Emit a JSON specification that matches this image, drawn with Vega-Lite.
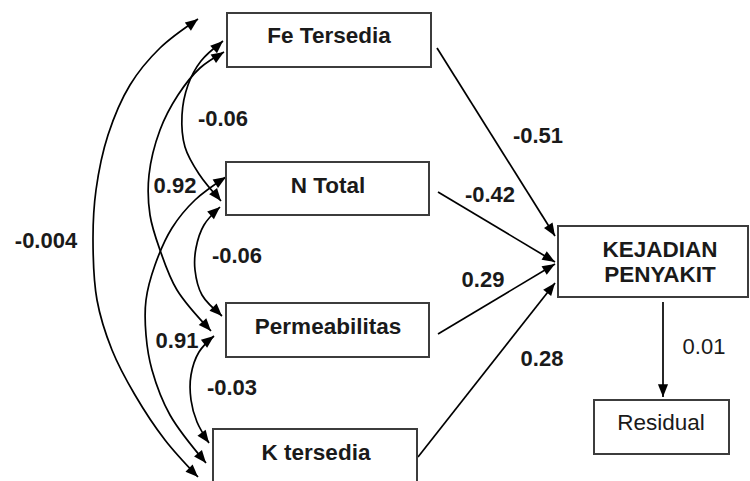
{
  "$schema": "https://vega.github.io/schema/vega-lite/v6.json",
  "width": 750,
  "height": 481,
  "padding": 0,
  "autosize": {"type": "fit", "contains": "padding"},
  "background": "white",
  "config": {"view": {"stroke": null}},
  "datasets": {
    "nodes": [
      {"name": "Fe Tersedia", "kind": "exogenous", "x1": 227, "x2": 431, "y1": 13, "y2": 67, "lx": 329, "ly": 43},
      {"name": "N Total", "kind": "exogenous", "x1": 226, "x2": 429, "y1": 162, "y2": 215, "lx": 328, "ly": 193},
      {"name": "Permeabilitas", "kind": "exogenous", "x1": 226, "x2": 429, "y1": 303, "y2": 357, "lx": 328, "ly": 334},
      {"name": "K tersedia", "kind": "exogenous", "x1": 213, "x2": 417, "y1": 429, "y2": 485, "lx": 316, "ly": 460},
      {"name": "KEJADIAN\nPENYAKIT", "kind": "endogenous", "x1": 558, "x2": 748, "y1": 226, "y2": 297, "lx": 660, "ly": 257},
      {"name": "Residual", "kind": "error", "x1": 594, "x2": 729, "y1": 400, "y2": 454, "lx": 661, "ly": 430}
    ],
    "paths": [
      {"path": "c_004", "seq": 0, "x": 198, "y": 19},
      {"path": "c_004", "seq": 1, "x": 160, "y": 48},
      {"path": "c_004", "seq": 2, "x": 130, "y": 85},
      {"path": "c_004", "seq": 3, "x": 108, "y": 135},
      {"path": "c_004", "seq": 4, "x": 96, "y": 190},
      {"path": "c_004", "seq": 5, "x": 93, "y": 240},
      {"path": "c_004", "seq": 6, "x": 97, "y": 300},
      {"path": "c_004", "seq": 7, "x": 112, "y": 350},
      {"path": "c_004", "seq": 8, "x": 135, "y": 395},
      {"path": "c_004", "seq": 9, "x": 165, "y": 440},
      {"path": "c_004", "seq": 10, "x": 198, "y": 477},
      {"path": "c_fe_n", "seq": 0, "x": 223, "y": 41},
      {"path": "c_fe_n", "seq": 1, "x": 201, "y": 61},
      {"path": "c_fe_n", "seq": 2, "x": 188, "y": 85},
      {"path": "c_fe_n", "seq": 3, "x": 182, "y": 115},
      {"path": "c_fe_n", "seq": 4, "x": 185, "y": 147},
      {"path": "c_fe_n", "seq": 5, "x": 199, "y": 174},
      {"path": "c_fe_n", "seq": 6, "x": 221, "y": 201},
      {"path": "c_fe_p", "seq": 0, "x": 224, "y": 52},
      {"path": "c_fe_p", "seq": 1, "x": 200, "y": 68},
      {"path": "c_fe_p", "seq": 2, "x": 178, "y": 95},
      {"path": "c_fe_p", "seq": 3, "x": 160, "y": 130},
      {"path": "c_fe_p", "seq": 4, "x": 149, "y": 175},
      {"path": "c_fe_p", "seq": 5, "x": 150, "y": 215},
      {"path": "c_fe_p", "seq": 6, "x": 160, "y": 250},
      {"path": "c_fe_p", "seq": 7, "x": 177, "y": 290},
      {"path": "c_fe_p", "seq": 8, "x": 211, "y": 331},
      {"path": "c_n_k", "seq": 0, "x": 226, "y": 177},
      {"path": "c_n_k", "seq": 1, "x": 195, "y": 200},
      {"path": "c_n_k", "seq": 2, "x": 172, "y": 228},
      {"path": "c_n_k", "seq": 3, "x": 155, "y": 265},
      {"path": "c_n_k", "seq": 4, "x": 146, "y": 300},
      {"path": "c_n_k", "seq": 5, "x": 146, "y": 335},
      {"path": "c_n_k", "seq": 6, "x": 152, "y": 370},
      {"path": "c_n_k", "seq": 7, "x": 170, "y": 415},
      {"path": "c_n_k", "seq": 8, "x": 206, "y": 463},
      {"path": "c_n_p", "seq": 0, "x": 220, "y": 207},
      {"path": "c_n_p", "seq": 1, "x": 204, "y": 225},
      {"path": "c_n_p", "seq": 2, "x": 196, "y": 248},
      {"path": "c_n_p", "seq": 3, "x": 195, "y": 270},
      {"path": "c_n_p", "seq": 4, "x": 202, "y": 295},
      {"path": "c_n_p", "seq": 5, "x": 222, "y": 316},
      {"path": "c_p_k", "seq": 0, "x": 214, "y": 336},
      {"path": "c_p_k", "seq": 1, "x": 199, "y": 352},
      {"path": "c_p_k", "seq": 2, "x": 191, "y": 375},
      {"path": "c_p_k", "seq": 3, "x": 191, "y": 400},
      {"path": "c_p_k", "seq": 4, "x": 197, "y": 422},
      {"path": "c_p_k", "seq": 5, "x": 209, "y": 443},
      {"path": "a_fe", "seq": 0, "x": 437, "y": 48},
      {"path": "a_fe", "seq": 1, "x": 555, "y": 236},
      {"path": "a_n", "seq": 0, "x": 438, "y": 192},
      {"path": "a_n", "seq": 1, "x": 555, "y": 262},
      {"path": "a_p", "seq": 0, "x": 438, "y": 334},
      {"path": "a_p", "seq": 1, "x": 555, "y": 264},
      {"path": "a_k", "seq": 0, "x": 418, "y": 457},
      {"path": "a_k", "seq": 1, "x": 555, "y": 283},
      {"path": "a_res", "seq": 0, "x": 663, "y": 302},
      {"path": "a_res", "seq": 1, "x": 663, "y": 397}
    ],
    "heads": [
      {"path": "c_004", "x": 198, "y": 19, "px": 186, "py": 28},
      {"path": "c_004", "x": 198, "y": 477, "px": 187, "py": 466},
      {"path": "c_fe_n", "x": 223, "y": 41, "px": 213, "py": 50},
      {"path": "c_fe_n", "x": 221, "y": 201, "px": 213, "py": 191},
      {"path": "c_fe_p", "x": 224, "y": 52, "px": 213, "py": 59},
      {"path": "c_fe_p", "x": 211, "y": 331, "px": 202, "py": 321},
      {"path": "c_n_k", "x": 226, "y": 177, "px": 215, "py": 184},
      {"path": "c_n_k", "x": 206, "y": 463, "px": 197, "py": 452},
      {"path": "c_n_p", "x": 220, "y": 207, "px": 211, "py": 215},
      {"path": "c_n_p", "x": 222, "y": 316, "px": 213, "py": 307},
      {"path": "c_p_k", "x": 214, "y": 336, "px": 205, "py": 343},
      {"path": "c_p_k", "x": 209, "y": 443, "px": 201, "py": 432},
      {"path": "a_fe", "x": 555, "y": 236, "px": 437, "py": 48},
      {"path": "a_n", "x": 555, "y": 262, "px": 438, "py": 192},
      {"path": "a_p", "x": 555, "y": 264, "px": 438, "py": 334},
      {"path": "a_k", "x": 555, "y": 283, "px": 418, "py": 457},
      {"path": "a_res", "x": 663, "y": 397, "px": 663, "py": 302}
    ],
    "coefs": [
      {"text": "-0.51", "kind": "path", "x": 538, "y": 143},
      {"text": "-0.42", "kind": "path", "x": 490, "y": 202},
      {"text": "0.29", "kind": "path", "x": 483, "y": 287},
      {"text": "0.28", "kind": "path", "x": 542, "y": 366},
      {"text": "-0.06", "kind": "path", "x": 223, "y": 126},
      {"text": "0.92", "kind": "path", "x": 175, "y": 193},
      {"text": "-0.004", "kind": "path", "x": 46, "y": 248},
      {"text": "-0.06", "kind": "path", "x": 237, "y": 263},
      {"text": "0.91", "kind": "path", "x": 177, "y": 348},
      {"text": "-0.03", "kind": "path", "x": 232, "y": 395},
      {"text": "0.01", "kind": "error", "x": 704, "y": 354}
    ]
  },
  "layer": [
    {
      "data": {"name": "paths"},
      "mark": {"type": "line", "interpolate": "catmull-rom", "color": "black", "strokeWidth": 1.7},
      "encoding": {
        "x": {"field": "x", "type": "quantitative", "scale": {"domain": [0, 750], "nice": false, "zero": false}, "axis": null},
        "y": {"field": "y", "type": "quantitative", "scale": {"domain": [0, 481], "nice": false, "zero": false, "reverse": true}, "axis": null},
        "detail": {"field": "path"},
        "order": {"field": "seq", "type": "quantitative"}
      }
    },
    {
      "data": {"name": "heads"},
      "transform": [{"calculate": "atan2(datum.x - datum.px, datum.py - datum.y) * 180 / PI", "as": "angle"}],
      "mark": {"type": "point", "shape": "M0,0L-0.8,2L0.8,2Z", "filled": true, "color": "black", "opacity": 1, "size": 160, "strokeWidth": 0},
      "encoding": {
        "x": {"field": "x", "type": "quantitative", "axis": null},
        "y": {"field": "y", "type": "quantitative", "axis": null},
        "angle": {"field": "angle", "type": "quantitative", "scale": null}
      }
    },
    {
      "data": {"name": "nodes"},
      "mark": {"type": "rect", "fill": "white", "stroke": "#3c3c3c", "strokeWidth": 2, "clip": true},
      "encoding": {
        "x": {"field": "x1", "type": "quantitative", "axis": null},
        "x2": {"field": "x2"},
        "y": {"field": "y1", "type": "quantitative", "axis": null},
        "y2": {"field": "y2"}
      }
    },
    {
      "data": {"name": "nodes"},
      "transform": [{"filter": "datum.kind != 'error'"}],
      "mark": {"type": "text", "font": "Liberation Sans", "fontSize": 22.5, "fontWeight": "bold", "align": "center", "baseline": "alphabetic", "color": "#1a1a1a", "lineBreak": "\n", "lineHeight": 25},
      "encoding": {
        "x": {"field": "lx", "type": "quantitative", "axis": null},
        "y": {"field": "ly", "type": "quantitative", "axis": null},
        "text": {"field": "name"}
      }
    },
    {
      "data": {"name": "nodes"},
      "transform": [{"filter": "datum.kind == 'error'"}],
      "mark": {"type": "text", "font": "Liberation Sans", "fontSize": 22.5, "align": "center", "baseline": "alphabetic", "color": "#1a1a1a"},
      "encoding": {
        "x": {"field": "lx", "type": "quantitative", "axis": null},
        "y": {"field": "ly", "type": "quantitative", "axis": null},
        "text": {"field": "name"}
      }
    },
    {
      "data": {"name": "coefs"},
      "transform": [{"filter": "datum.kind == 'path'"}],
      "mark": {"type": "text", "font": "Liberation Sans", "fontSize": 22, "fontWeight": "bold", "align": "center", "baseline": "alphabetic", "color": "#1a1a1a"},
      "encoding": {
        "x": {"field": "x", "type": "quantitative", "axis": null},
        "y": {"field": "y", "type": "quantitative", "axis": null},
        "text": {"field": "text"}
      }
    },
    {
      "data": {"name": "coefs"},
      "transform": [{"filter": "datum.kind == 'error'"}],
      "mark": {"type": "text", "font": "Liberation Sans", "fontSize": 22, "align": "center", "baseline": "alphabetic", "color": "#1a1a1a"},
      "encoding": {
        "x": {"field": "x", "type": "quantitative", "axis": null},
        "y": {"field": "y", "type": "quantitative", "axis": null},
        "text": {"field": "text"}
      }
    }
  ]
}
